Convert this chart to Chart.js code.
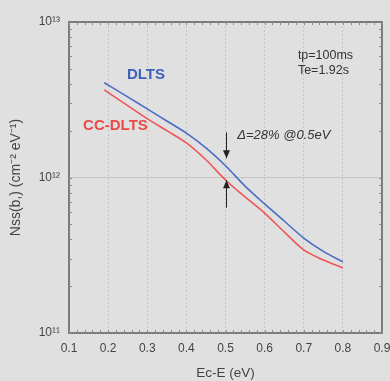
<!DOCTYPE html>
<html>
<head>
<meta charset="utf-8">
<script src="https://cdn.jsdelivr.net/npm/chart.js@4.4.1/dist/chart.umd.min.js"></script>
<style>
  html, body { margin: 0; padding: 0; background: #e1e0e1; }
  #wrap { width: 390px; height: 381px; }
</style>
</head>
<body>
<div id="wrap"><canvas id="nss-chart" width="390" height="381"></canvas></div>
<script>
const energy = [0.19, 0.25, 0.30, 0.35, 0.40, 0.45, 0.50, 0.55, 0.60, 0.65, 0.70, 0.75, 0.80];
const dlts = [4.07e12, 3.3e12, 2.76e12, 2.31e12, 1.93e12, 1.55e12, 1.19e12, 8.8e11, 6.76e11, 5.25e11, 4.08e11, 3.35e11, 2.87e11];
const ccdlts = [3.66e12, 2.9e12, 2.39e12, 2.0e12, 1.67e12, 1.3e12, 9.64e11, 7.5e11, 5.9e11, 4.47e11, 3.42e11, 2.95e11, 2.62e11];
const xTicks = ["0.1", "0.2", "0.3", "0.4", "0.5", "0.6", "0.7", "0.8", "0.9"];
const yTickLabels = { 11: "10¹¹", 12: "10¹²", 13: "10¹³" };

const toPoints = (ys) => energy.map((x, i) => ({ x: x, y: ys[i] }));
const FONT = "Arial, 'Liberation Sans', sans-serif";

// frame, minor ticks, labels and arrows, placed in data coordinates
const annotate = {
  id: "annotate",
  afterDatasetsDraw(chart) {
    const { ctx, chartArea: a, scales: { x, y } } = chart;
    ctx.save();

    // frame
    ctx.strokeStyle = "#7c7c7c";
    ctx.lineWidth = 2;
    ctx.strokeRect(a.left, a.top, a.right - a.left, a.bottom - a.top);

    // minor ticks inside frame
    ctx.lineWidth = 1;
    ctx.strokeStyle = "#8c8c8c";
    for (let v = 0.1; v <= 0.9001; v += 0.02) {
      const px = Math.round(x.getPixelForValue(v)) + 0.5;
      ctx.beginPath();
      ctx.moveTo(px, a.bottom); ctx.lineTo(px, a.bottom - 3);
      ctx.moveTo(px, a.top); ctx.lineTo(px, a.top + 3);
      ctx.stroke();
    }
    for (let d = 11; d < 13; d++) {
      for (let m = 1; m <= 9; m++) {
        const py = Math.round(y.getPixelForValue(m * Math.pow(10, d))) + 0.5;
        ctx.beginPath();
        ctx.moveTo(a.left, py); ctx.lineTo(a.left + 3, py);
        ctx.moveTo(a.right, py); ctx.lineTo(a.right - 3, py);
        ctx.stroke();
      }
    }

    ctx.textBaseline = "middle";
    ctx.font = "bold 15px " + FONT;
    ctx.fillStyle = "#3f5fb8";
    ctx.fillText("DLTS", x.getPixelForValue(0.248), y.getPixelForValue(4.6e12));
    ctx.fillStyle = "#ec4848";
    ctx.fillText("CC-DLTS", x.getPixelForValue(0.136), y.getPixelForValue(2.15e12));

    ctx.fillStyle = "#333";
    ctx.font = "12.5px " + FONT;
    ctx.fillText("tp=100ms", x.getPixelForValue(0.685), y.getPixelForValue(6.1e12));
    ctx.fillText("Te=1.92s", x.getPixelForValue(0.685), y.getPixelForValue(4.85e12));
    ctx.font = "italic 13px " + FONT;
    ctx.fillText("Δ=28% @0.5eV", x.getPixelForValue(0.53), y.getPixelForValue(1.87e12));

    // arrows at 0.5 eV
    const ax = Math.round(x.getPixelForValue(0.5)) + 0.5;
    const arrow = (from, tip) => {
      const y0 = y.getPixelForValue(from), y1 = y.getPixelForValue(tip);
      const dir = y1 > y0 ? 1 : -1;
      ctx.strokeStyle = "#222";
      ctx.fillStyle = "#222";
      ctx.lineWidth = 1;
      ctx.beginPath();
      ctx.moveTo(ax, y0); ctx.lineTo(ax, y1);
      ctx.stroke();
      ctx.beginPath();
      ctx.moveTo(ax, y1);
      ctx.lineTo(ax - 3.5, y1 - dir * 8);
      ctx.lineTo(ax + 3.5, y1 - dir * 8);
      ctx.closePath();
      ctx.fill();
    };
    arrow(1.95e12, 1.33e12);
    arrow(6.4e11, 9.6e11);

    ctx.restore();
  }
};

const data = {
  datasets: [
    {
      label: "DLTS",
      data: toPoints(dlts),
      borderColor: "#4a6cc4",
      borderWidth: 1.6,
      pointRadius: 0,
      cubicInterpolationMode: "monotone",
    },
    {
      label: "CC-DLTS",
      data: toPoints(ccdlts),
      borderColor: "#ee5656",
      borderWidth: 1.6,
      pointRadius: 0,
      cubicInterpolationMode: "monotone",
    },
  ],
};

const config = {
  type: "line",
  data: data,
  plugins: [annotate],
  options: {
    responsive: false,
    animation: false,
    layout: { padding: { top: 22, right: 8, left: 8, bottom: 0 } },
    plugins: {
      legend: { display: false },
      tooltip: { enabled: false },
    },
    scales: {
      x: {
        type: "linear",
        min: 0.1,
        max: 0.9,
        ticks: {
          stepSize: 0.1,
          color: "#444",
          padding: 8,
          font: { size: 12, family: FONT },
          callback: (v) => xTicks[Math.round((v - 0.1) * 10)] ?? "",
        },
        grid: {
          color: "#c6c6c6",
          lineWidth: 1,
          drawTicks: false,
        },
        border: { display: false, dash: [2, 2] },
        title: {
          display: true,
          text: "Ec-E (eV)",
          color: "#444",
          font: { size: 13.5, family: FONT },
          padding: { top: 10, bottom: 0 },
        },
        afterFit: (s) => {
          s.height = 48;
          s.paddingRight = 0;
          s.paddingLeft = 0;
        },
      },
      y: {
        type: "logarithmic",
        min: 1e11,
        max: 1e13,
        ticks: {
          color: "#444",
          padding: 9,
          autoSkip: false,
          font: { size: 12, family: FONT },
          callback: (v) => {
            const e = Math.log10(v);
            return Math.abs(e - Math.round(e)) < 1e-9 ? (yTickLabels[Math.round(e)] ?? "") : "";
          },
        },
        grid: {
          drawTicks: false,
          color: (c) => {
            const e = Math.log10(c.tick.value);
            return Math.abs(e - 12) < 1e-9 ? "#c6c6c6" : "rgba(0,0,0,0)";
          },
        },
        border: { display: false },
        title: {
          display: true,
          text: "Nss(b,) (cm⁻² eV⁻¹)",
          color: "#444",
          font: { size: 14, family: FONT },
          padding: { top: 0, bottom: 2 },
        },
        afterFit: (s) => {
          s.width = 61;
          s.paddingTop = 0;
          s.paddingBottom = 0;
        },
      },
    },
  },
};

let myChart = new Chart(document.getElementById("nss-chart"), config);
</script>
</body>
</html>
